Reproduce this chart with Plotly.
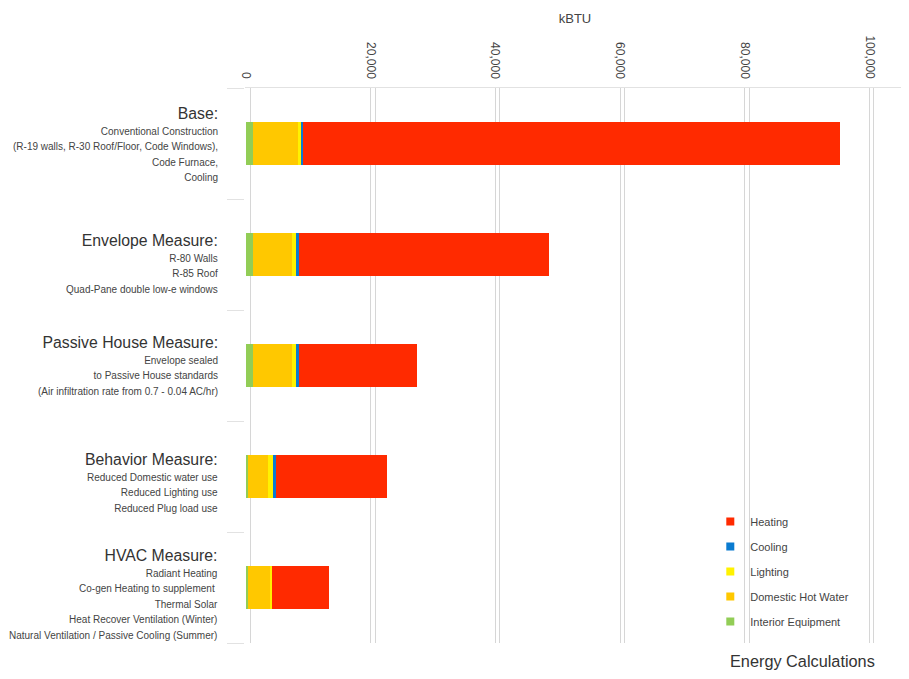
import plotly.graph_objects as go

categories = ["Base", "Envelope", "Passive", "Behavior", "HVAC"]
titles = ["Base:", "Envelope Measure:", "Passive House Measure:", "Behavior Measure:", "HVAC Measure:"]
subtitles = [
    ["Conventional Construction", "(R-19 walls, R-30 Roof/Floor, Code Windows),", "Code Furnace,", "Cooling"],
    ["R-80 Walls", "R-85 Roof", "Quad-Pane double low-e windows"],
    ["Envelope sealed", "to Passive House standards", "(Air infiltration rate from 0.7 - 0.04 AC/hr)"],
    ["Reduced Domestic water use", "Reduced Lighting use", "Reduced Plug load use"],
    ["Radiant Heating", "Co-gen Heating to supplement ", "Thermal Solar", "Heat Recover Ventilation (Winter)", "Natural Ventilation / Passive Cooling (Summer)"],
]

interior_equipment = [1200, 1200, 1200, 400, 400]
domestic_hot_water = [7200, 6250, 6250, 3200, 3400]
lighting = [350, 500, 500, 800, 400]
cooling = [350, 500, 500, 450, 0]
heating = [86100, 40100, 19000, 17700, 9100]

tick_values = [0, 20000, 40000, 60000, 80000, 100000]

series = [
    ("Interior Equipment", interior_equipment, "#92CD56"),
    ("Domestic Hot Water", domestic_hot_water, "#FFC800"),
    ("Lighting", lighting, "#FFF200"),
    ("Cooling", cooling, "#0A7BD0"),
    ("Heating", heating, "#FF2A00"),
]

# vertical pixel nudges of each label block (layout only)
label_shift = [0, -9, 0, -6, -6]

FONT = "Liberation Sans, Arial, sans-serif"

fig = go.Figure()
for name, vals, col in series:
    fig.add_trace(go.Bar(
        y=categories, x=vals, orientation="h", name=name,
        marker=dict(color=col, line=dict(width=0)), showlegend=False,
    ))

# legend entries (small squares)
for name, vals, col in reversed(series):
    fig.add_trace(go.Scatter(
        x=[None], y=[None], mode="markers", name=name, legendgroup=name,
        marker=dict(symbol="square", size=8, color=col),
    ))

annotations = []
for cat, t, subs, sh in zip(categories, titles, subtitles, label_shift):
    lines = ['<span style="font-size:15.8px;color:#333">' + t + "</span>"]
    lines += ['<span style="font-size:10px">' + s + "</span>" for s in subs]
    annotations.append(dict(
        text="<br>".join(lines), xref="paper", yref="y", x=0, y=cat,
        xanchor="right", yanchor="middle", align="right", xshift=-25, yshift=sh,
        showarrow=False, font=dict(size=12, color="#444"),
    ))

annotations.append(dict(
    text="Energy Calculations", xref="paper", yref="paper",
    x=0.958, y=-0.032, xanchor="right", yanchor="middle",
    showarrow=False, font=dict(size=16.3, color="#333"),
))

fig.update_layout(
    width=901, height=671,
    margin=dict(l=237, r=4, t=80, b=36),
    barmode="stack", bargap=0.61,
    plot_bgcolor="white", paper_bgcolor="white",
    font=dict(family=FONT, color="#444", size=11),
    xaxis=dict(
        side="top", range=[-160, 105700],
        tickvals=tick_values, tickformat=",d", tickangle=90,
        tickfont=dict(size=12, color="#444"), ticklabelstandoff=4,
        showgrid=True, gridcolor="#d6d6d6", gridwidth=1,
        minor=dict(tick0=700, dtick=20000, showgrid=True, gridcolor="#d6d6d6", gridwidth=1),
        showline=True, linecolor="#e2e2e2", linewidth=1,
        zeroline=False, ticks="",
        title=dict(text="kBTU", font=dict(size=13, color="#444"), standoff=8),
        automargin=False,
    ),
    yaxis=dict(
        categoryorder="array", categoryarray=categories, autorange="reversed",
        tickmode="array", tickvals=categories, showticklabels=False,
        tickson="boundaries", ticks="outside", ticklen=17, tickcolor="#e2e2e2",
        showgrid=False, showline=False, zeroline=False,
        automargin=False,
    ),
    legend=dict(
        x=0.705, y=0.245, xanchor="left", yanchor="top",
        font=dict(size=11, color="#444"), tracegroupgap=6,
        bgcolor="rgba(0,0,0,0)",
    ),
    showlegend=True,
    annotations=annotations,
)

fig.write_html("out.html")
